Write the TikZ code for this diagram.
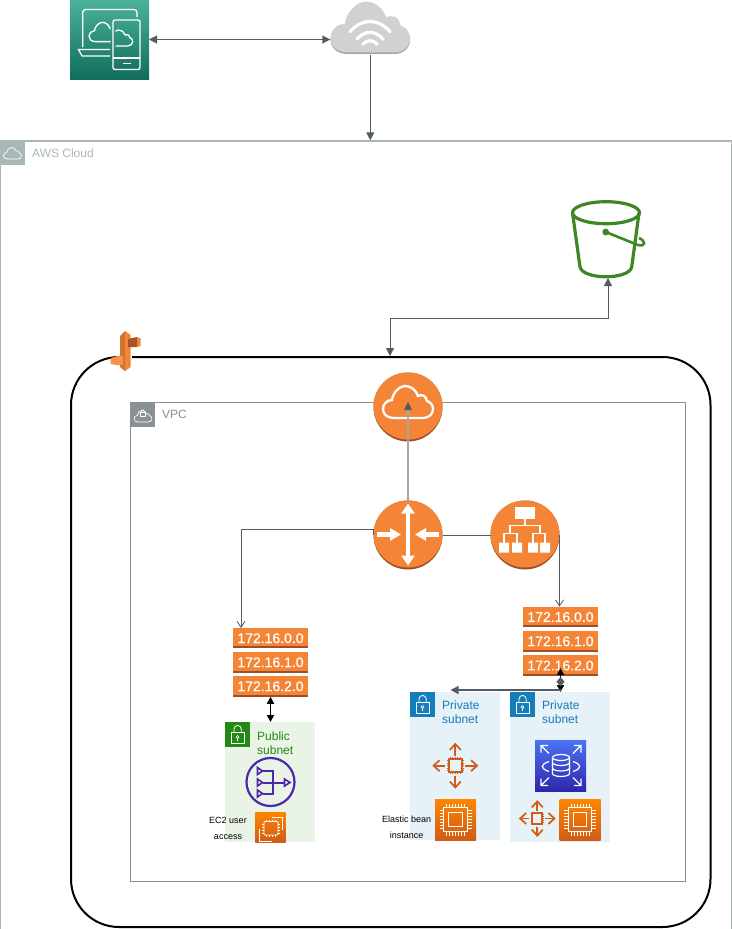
\documentclass[tikz,border=0pt]{standalone}
\usepackage{fontspec}
\setmainfont{Liberation Sans}
\usetikzlibrary{arrows.meta}
\definecolor{linec}{HTML}{545B64}
\definecolor{awsc}{HTML}{AAB7B8}
\definecolor{vpcc}{HTML}{879196}
\definecolor{org}{HTML}{F58536}
\definecolor{orgd}{HTML}{9D5025}
\definecolor{pubc}{HTML}{248814}
\definecolor{pubf}{HTML}{E9F3E6}
\definecolor{prc}{HTML}{147EBA}
\definecolor{prf}{HTML}{E6F2F8}
\definecolor{purp}{HTML}{4D27AA}
\definecolor{scal}{HTML}{D05C17}
\definecolor{buck}{HTML}{3F8624}
\tikzset{
  anch/.style={inner sep=0pt,minimum width=#1,minimum height=#1,outer sep=0pt},
  conn/.style={draw=linec,line width=1pt,{Triangle[width=8pt,length=8pt]}-{Triangle[width=8pt,length=8pt]}},
  oneway/.style={draw=linec,line width=1pt,-{Triangle[width=8pt,length=8pt]}},
  openway/.style={draw=linec,line width=.8pt,-{Straight Barb[width=8pt,length=6pt]}},
  blackarrow/.style={draw=black,line width=1.6pt,{Triangle[width=7pt,length=7pt]}-{Triangle[width=7pt,length=7pt]}},
  ipbox/.style={fill=org,inner sep=0pt,minimum width=75pt,minimum height=20.5pt,text=white,font=\fontsize{14}{14}\selectfont\addfontfeature{FakeBold=0.6},
    path picture={\fill[orgd] (path picture bounding box.south west) rectangle ([yshift=2pt]path picture bounding box.south east);}},
  lab/.style={anchor=west,inner sep=0pt,font=\fontsize{12}{14}\selectfont,align=left},
  small/.style={inner sep=0pt,text=black,font=\fontsize{9}{15.5}\selectfont,align=center},
  pics/acloud/.style={code={
    \path[pic actions] (-14,11) .. controls (-21,11) and (-25,7) .. (-25,2)
      .. controls (-25,-3) and (-21,-7) .. (-16,-7)
      .. controls (-15,-15) and (-8,-21) .. (-3,-21)
      .. controls (3,-21) and (8,-17) .. (10,-11)
      .. controls (13,-13) and (18,-12) .. (19,-6)
      .. controls (23,-5) and (25,-1) .. (25,2)
      .. controls (25,7) and (21,11) .. (15,11) -- cycle;
  }},
  pics/orgcirc/.style={code={
    \fill[orgd] (0,0) circle (34.5);
    \fill[org] (0,-1) ellipse [x radius=34.5,y radius=33.5];
  }},
  pics/lockp/.style={code={
    \draw[white,line width=.8pt] (6.2,10) rectangle (19,21);
    \draw[white,line width=.8pt] (9,10) -- (9,7) arc[start angle=180,end angle=360,radius=3.6] -- (16.2,10);
    \draw[white,line width=.7pt] (12.6,15) circle (1.4);
    \draw[white,line width=.7pt] (12.6,16.4) -- (12.6,18.5);
  }},
  pics/chipi/.style={code={
    \draw[white,line width=1pt] (-11.7,-11.7) rectangle (11.7,11.7);
    \draw[white,line width=1.2pt] (-6.7,-6.7) rectangle (6.7,6.7);
    \foreach \p in {-9,-6,...,9}{
      \draw[white,line width=.7pt] (\p,-11.7) -- (\p,-16);
      \draw[white,line width=.7pt] (\p,11.7) -- (\p,16);
      \draw[white,line width=.7pt] (-11.7,\p) -- (-16,\p);
      \draw[white,line width=.7pt] (11.7,\p) -- (16,\p);
    }
  }},
  pics/scaler/.style={code={
    \draw[scal,line width=2pt] (-6.3,-6.3) rectangle (6.3,6.3);
    \foreach \p in {-5,-2.5,0,2.5,5}{
      \draw[scal,line width=1pt] (\p,-6) -- (\p,-8.5);
      \draw[scal,line width=1pt] (\p,6) -- (\p,8.5);
      \draw[scal,line width=1pt] (-6,\p) -- (-8.5,\p);
      \draw[scal,line width=1pt] (6,\p) -- (8.5,\p);
    }
    \foreach \a in {0,90,180,270}{
      \draw[scal,line width=1.7pt,rotate=\a,-{Straight Barb[width=11pt,length=6pt]}] (0,-10) -- (0,-23);
    }
  }},
}
\begin{document}
\begin{tikzpicture}[x=1pt,y=-1pt]
\useasboundingbox (0,0) rectangle (731,929);
\fill[white] (0,0) rectangle (731,929);

% group boxes
\node[draw=awsc,line width=1.2pt,inner sep=0pt,minimum width=730.4pt,minimum height=788.5pt,anchor=north west] (aws) at (0.2,140.3) {};
\fill[awsc] (0,140) rectangle (25,165);
\pic[draw=white,line width=.7pt,scale=.36] at (12.5,155) {acloud};
\node[lab,text=awsc] (awst) at (32,153.5) {AWS Cloud};

\node[draw=black,line width=2pt,rounded corners=48pt,inner sep=0pt,minimum width=639.5pt,minimum height=570pt,anchor=north west] (region) at (70,356) {};

\node[draw=vpcc,line width=.8pt,inner sep=0pt,minimum width=555pt,minimum height=479pt,anchor=north west] (vpc) at (130.2,401.8) {};
\fill[vpcc] (130,402) rectangle (155,427);
\pic[draw=white,line width=.7pt,scale=.36] at (143,418) {acloud};
\draw[white,line width=.6pt] (140.5,412.5) rectangle (145.5,416.5);
\draw[white,line width=.6pt] (141.7,412.5) -- (141.7,411) arc[start angle=180,end angle=360,radius=1.3] -- (144.3,412.5);
\node[lab,text=vpcc] (vpct) at (162,414.5) {VPC};

% subnets
\node[fill=pubf,inner sep=0pt,minimum width=90pt,minimum height=120pt,anchor=north west] (pub) at (225,722) {};
\fill[pubc] (225,722) rectangle (250,747);
\pic at (225,722) {lockp};
\node[lab,text=pubc] (pubt) at (257,743) {Public\\subnet};

\node[fill=prf,inner sep=0pt,minimum width=90pt,minimum height=148pt,anchor=north west] (pvl) at (410,692) {};
\fill[prc] (410,692) rectangle (435,717);
\pic at (410,692) {lockp};
\node[lab,text=prc] (pvlt) at (442,712.5) {Private\\subnet};

\node[fill=prf,inner sep=0pt,minimum width=100pt,minimum height=150pt,anchor=north west] (pvr) at (510,692) {};
\fill[prc] (510,692) rectangle (535,717);
\pic at (510,692) {lockp};
\node[lab,text=prc] (pvrt) at (542,712.5) {Private\\subnet};

% device icon
\shade[top color={rgb,255:red,74;green,178;blue,154},bottom color={rgb,255:red,17;green,109;blue,91}] (70,0) rectangle (149,79);
\node[anch=79pt] (dev) at (109.5,39.5) {};
\begin{scope}[white,line width=1.3pt]
  \draw[rounded corners=3pt] (82.7,47) -- (82.7,9.5) -- (137,9.5) -- (137,17);
  \draw (110,49.5) -- (78.5,49.5) -- (82,56) -- (110,56);
  \draw[rounded corners=2pt] (113,20) rectangle (140,69.5);
  \draw (113,58) -- (140,58);
  \draw[line width=1.8pt] (123,63.5) -- (131,63.5);
  \begin{scope}
    \clip (80,15) rectangle (110.5,50);
    \pic[draw=white,line width=1.3pt,scale=.6] at (104,35) {acloud};
  \end{scope}
  \begin{scope}
    \clip (115.5,25) rectangle (138,50);
    \pic[draw=white,line width=1.3pt,scale=.5] at (120.2,40.5) {acloud};
  \end{scope}
\end{scope}

% internet cloud
\pic[fill=black!35,scale=1.59] at (370.3,36.5) {acloud};
\pic[fill=black!18,scale=1.59] at (370.3,35) {acloud};
\node[anch=50pt,minimum width=80pt,minimum height=53pt] (inet) at (370.3,28.5) {};
\begin{scope}[white,line width=3.2pt,line cap=round]
  \draw (350,31.7) .. controls (362,18) and (378,18) .. (390,31.7);
  \draw (356.7,39.3) .. controls (365,30) and (375,30) .. (383.3,39.3);
  \draw (362.7,44.3) .. controls (367,39.5) and (373,39.5) .. (377.3,44.3);
\end{scope}

% bucket
\node[anch=76pt] (bucket) at (608,240) {};
\begin{scope}[buck,line width=3.2pt]
  \draw (606,212.7) ellipse [x radius=33.5,y radius=11];
  \draw (572.7,214) -- (580,267) .. controls (583,280) and (629,280) .. (631.7,267) -- (639,213);
  \fill (605.7,232) circle (3.4);
  \draw[line width=2.6pt] (605.7,232) -- (638,245) .. controls (646,247) and (646,241) .. (639,238);
\end{scope}

% connectors (under icons)
\coordinate (regtop) at (390,356);
\coordinate (ipltop) at (241,628);
\draw[conn] (dev.east) -- (dev.east -| inet.west);
\draw[oneway] (inet.south) -- (inet.south |- aws.north);
\draw[conn] (bucket.south) -- (608,318) -- (390,318) -- (regtop);

% icons on vpc
\node[anch=69pt] (gw) at (408,407) {};
\pic at (gw.center) {orgcirc};
\pic[draw=white,line width=2.3pt] at (gw.center) {acloud};
\node[anch=69pt] (router) at (408,535) {};
\pic at (router.center) {orgcirc};
\begin{scope}[shift={(408,534.5)}]
  \draw[white,line width=4pt,{Triangle[width=13pt,length=10pt]}-{Triangle[width=13pt,length=10pt]}] (0,-31) -- (0,31);
  \draw[white,line width=5pt,-{Triangle[width=12pt,length=11pt]}] (-31,0) -- (-7,0);
  \draw[white,line width=5pt,-{Triangle[width=12pt,length=11pt]}] (31,0) -- (7,0);
\end{scope}
\node[anch=69pt] (lb) at (525,535) {};
\pic at (lb.center) {orgcirc};
\begin{scope}[shift={(525,534.5)}]
  \fill[white] (-10,-28) rectangle (10,-16);
  \draw[white,line width=1.2pt] (0,-16) -- (0,-9) (-15,-1) -- (-15,-9) -- (15,-9) -- (15,-1)
     (-21,8) -- (-21,-1) -- (-8,-1) -- (-8,8) (8,8) -- (8,-1) -- (20,-1) -- (20,8);
  \fill[white] (-26,8) rectangle (-16,18) (-13,8) rectangle (-3,18) (3,8) rectangle (13,18) (15,8) rectangle (25,18);
\end{scope}

% ip tables
\node[ipbox] (ipl1) at (270.5,638.2) {172.16.0.0};
\node[ipbox] (ipl2) at (270.5,662.3) {172.16.1.0};
\node[ipbox] (ipl3) at (270.5,686.3) {172.16.2.0};
\node[ipbox] (ipr1) at (560.5,617) {172.16.0.0};
\node[ipbox] (ipr2) at (560.5,641.3) {172.16.1.0};
\node[ipbox] (ipr3) at (560.5,665.5) {172.16.2.0};

% connectors between them
\draw[openway] (router.west) -- ++(0,-5.5) -- (ipltop |- 0,529.5) -- (ipltop);
\draw[draw=linec,line width=1pt] (router.east) -- (lb.west);
\draw[openway] (lb.east) -- (lb.east |- ipr1.north);
\draw[draw=black!35!white,line width=2pt] (router.north) -- (408,408);
\coordinate (gwin) at (408,402);
\coordinate (gwstem) at (408,409);
\draw[oneway] (gwstem) -- (gwin);
\draw[blackarrow] (ipl3.south) -- (pub.north -| ipl3.south);

% right junction
\coordinate (ipin) at (560.5,668);
\coordinate (pvtop) at (560.5,692);
\coordinate (jl) at (450.5,690);
\coordinate (jr) at (560.5,690);
\coordinate (dm1) at (560.5,677);
\coordinate (dm2) at (560.5,686.5);
\draw[blackarrow] (ipin) -- (pvtop);
\draw[draw=linec,line width=1.5pt,{Triangle[width=8pt,length=5pt]}-{Triangle[width=8pt,length=5pt]}] (dm1) -- (dm2);
\draw[draw=linec,line width=1.3pt,-{Triangle[width=8pt,length=8pt]}] (jr) -- (jl);

% NAT
\node[anch=49pt] (nat) at (270.5,782) {};
\draw[purp,line width=2.2pt] (nat.center) circle (24);
\begin{scope}[purp,line width=2pt]
  \draw (262.7,771) -- (272.7,771) -- (272.7,793.5) -- (262.7,793.5);
  \draw (262.7,782.5) -- (284,782.5);
  \draw[line width=1.6pt] (257.5,767.5) -- (262.5,771) -- (257.5,774.5) -- cycle;
  \draw[line width=1.6pt] (257.5,779) -- (262.5,782.5) -- (257.5,786) -- cycle;
  \draw[line width=1.6pt] (257.5,790) -- (262.5,793.5) -- (257.5,797) -- cycle;
  \draw[line width=1.6pt] (284.5,779) -- (290,782.5) -- (284.5,786) -- cycle;
\end{scope}

% EC2 public
\shade[top color=orange!95!yellow,bottom color=scal] (255.3,812) rectangle (285.7,842);
\node[anch=30pt] (ec2a) at (270.5,827) {};
\begin{scope}[white,line width=.8pt]
  \draw[rounded corners=1pt] (264,821.5) rectangle (278,835);
  \foreach \p in {266,269,272,275}{
    \draw[line width=.5pt] (\p,819.5) -- (\p,821.5) (\p,835) -- (\p,837);
  }
  \foreach \p in {824,827,830,833}{
    \draw[line width=.5pt] (262,\p) -- (264,\p) (278,\p) -- (280,\p);
  }
  \draw (272,817) -- (282.5,817) -- (282.5,830);
  \draw (259,829) -- (259,841) -- (272,841);
\end{scope}
\node[small] (ec2t) at (228,828.5) {EC2 user\\access};

% scaling and chips
\pic at (455.3,765.7) {scaler};
\node[anch=46pt] (scl) at (455.3,765.7) {};
\pic[scale=.8] at (537.3,818.5) {scaler};
\node[anch=37pt] (scr) at (537.3,818.5) {};

\shade[top color=orange!95!yellow,bottom color=scal] (435,799) rectangle (476,840);
\node[anch=41pt] (chl) at (455.5,819.5) {};
\pic at (chl.center) {chipi};
\node[small] (chlt) at (406.7,827.5) {Elastic bean\\instance};

\shade[top color=orange!95!yellow,bottom color=scal] (559.5,799) rectangle (600.5,840);
\node[anch=41pt] (chr) at (580,819.5) {};
\pic at (chr.center) {chipi};

% RDS
\shade[top color={rgb,255:red,77;green,114;blue,243},bottom color={rgb,255:red,46;green,39;blue,173}] (535,740) rectangle (586,791);
\node[anch=51pt] (rds) at (560.5,765.5) {};
\begin{scope}[shift={(561,765.5)},white,line width=1.2pt]
  \draw (0,-8) ellipse [x radius=8.5,y radius=3];
  \draw (-8.5,-8) -- (-8.5,8) arc[start angle=180,end angle=0,x radius=8.5,y radius=3] -- (8.5,-8);
  \draw (-8.5,-3) arc[start angle=180,end angle=0,x radius=8.5,y radius=3];
  \draw (-8.5,2.5) arc[start angle=180,end angle=0,x radius=8.5,y radius=3];
  \draw (-12,-4) .. controls (-21,-1) and (-21,3) .. (-12,6);
  \draw (12,-4) .. controls (21,-1) and (21,3) .. (12,6);
  \draw (-12,-12) -- (-20,-20) (-20,-13) -- (-20,-20) -- (-13,-20);
  \draw (12,-12) -- (20,-20) (20,-13) -- (20,-20) -- (13,-20);
  \draw (-12,12) -- (-20,20) (-20,13) -- (-20,20) -- (-13,20);
  \draw (12,12) -- (20,20) (20,13) -- (20,20) -- (13,20);
\end{scope}

% region logo
\fill[white] (118,352) rectangle (132,360);
\fill[org!85!black] (120,336) -- (125,331) -- (125,371) -- (120,367) -- cycle;
\fill[org] (125,331) -- (130.7,335) -- (130.7,367) -- (125,371) -- cycle;
\fill[orgd!90!org] (128,339) -- (137,337) -- (137,347) -- (128,347) -- cycle;
\fill[org] (137,337) -- (140.7,338.5) -- (140.7,346) -- (137,347) -- cycle;
\fill[org!90!white] (110.7,358) -- (118.5,355.7) -- (123,355.7) -- (123,365) -- (116,365) -- (110.7,364) -- cycle;
\node[anch=31pt] (logo) at (125.5,351) {};
\end{tikzpicture}
\end{document}
